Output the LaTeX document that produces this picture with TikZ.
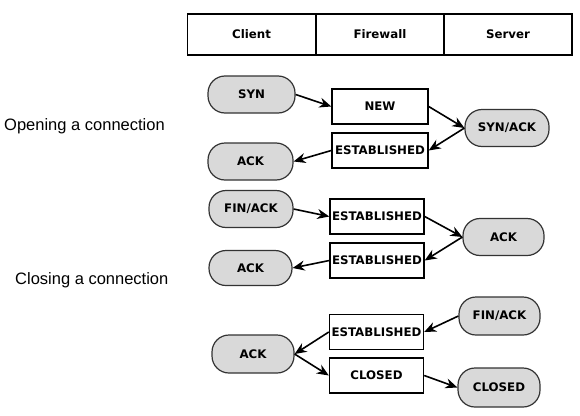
\documentclass[tikz,border=0pt]{standalone}
\usepackage{fontspec}
\setmainfont{DejaVu Sans}
\newfontfamily\labelfont{Liberation Sans}
\usetikzlibrary{arrows.meta}
\begin{document}
\begin{tikzpicture}[x=1pt,y=-1pt,
  every node/.style={font=\fontsize{11.8}{14}\bfseries, inner sep=0pt},
  cell/.style={draw, line width=1.4pt, minimum width=128pt, minimum height=41pt},
  pill/.style={draw=black!80, fill=black!15, line width=1.2pt, rounded corners=17pt, minimum height=37pt},
  state/.style={draw, line width=1.4pt, fill=white, minimum height=35pt},
  flow/.style={line width=1.6pt, -{Stealth[length=12pt,width=10pt]}},
  side/.style={font=\labelfont\fontsize{16.5}{20}\selectfont, anchor=west}
]
\useasboundingbox (0,0) rectangle (580,415);
% header
\node[cell] (hc) at (251.5,34.5) {Client};
\node[cell] (hf) at (380,34.5) {Firewall};
\node[cell] (hs) at (508,34.5) {Server};
% side labels
\node[side] (lo) at (4,126) {Opening a connection};
\node[side] (lc) at (15,280) {Closing a connection};
% opening
\node[pill, minimum width=87pt] (syn) at (251.5,94.5) {SYN};
\node[state, minimum width=96pt] (new) at (380,106.5) {NEW};
\node[pill, minimum width=84pt] (synack) at (507,128) {SYN/ACK};
\node[state, minimum width=96pt] (est0) at (380,150.5) {ESTABLISHED};
\node[pill, minimum width=85pt] (ack0) at (250.5,161.5) {ACK};
\draw[flow] (syn.east) -- (new.west);
\draw[flow] (new.east) -- (synack.west);
\draw[flow] (synack.west) -- (est0.east);
\draw[flow] (est0.west) -- (ack0.east);
% closing
\node[pill, minimum width=84pt] (finack) at (251,209) {FIN/ACK};
\node[state, minimum width=94pt] (est1) at (377,216.5) {ESTABLISHED};
\node[pill, minimum width=81pt] (ack1) at (503.5,237) {ACK};
\node[state, minimum width=94pt] (est2) at (377,260.5) {ESTABLISHED};
\node[pill, minimum width=83pt, minimum height=35pt] (ack2) at (250.5,268) {ACK};
\draw[flow] (finack.east) -- (est1.west);
\draw[flow] (est1.east) -- (ack1.west);
\draw[flow] (ack1.west) -- (est2.east);
\draw[flow] (est2.west) -- (ack2.east);
% final
\node[pill, minimum width=81pt, minimum height=38pt] (finack2) at (499.5,316) {FIN/ACK};
\node[state, minimum width=94pt] (est3) at (376.5,332) {ESTABLISHED};
\node[pill, minimum width=82pt, minimum height=38pt] (ack3) at (253,354) {ACK};
\node[state, minimum width=94pt] (closed) at (376.5,375.5) {CLOSED};
\node[pill, minimum width=82pt, minimum height=39pt] (closed2) at (499,387.5) {CLOSED};
\draw[flow] (finack2.west) -- (est3.east);
\draw[flow] (est3.west) -- (ack3.east);
\draw[flow] (ack3.east) -- (closed.west);
\draw[flow] (closed.east) -- (closed2.west);
\end{tikzpicture}
\end{document}
